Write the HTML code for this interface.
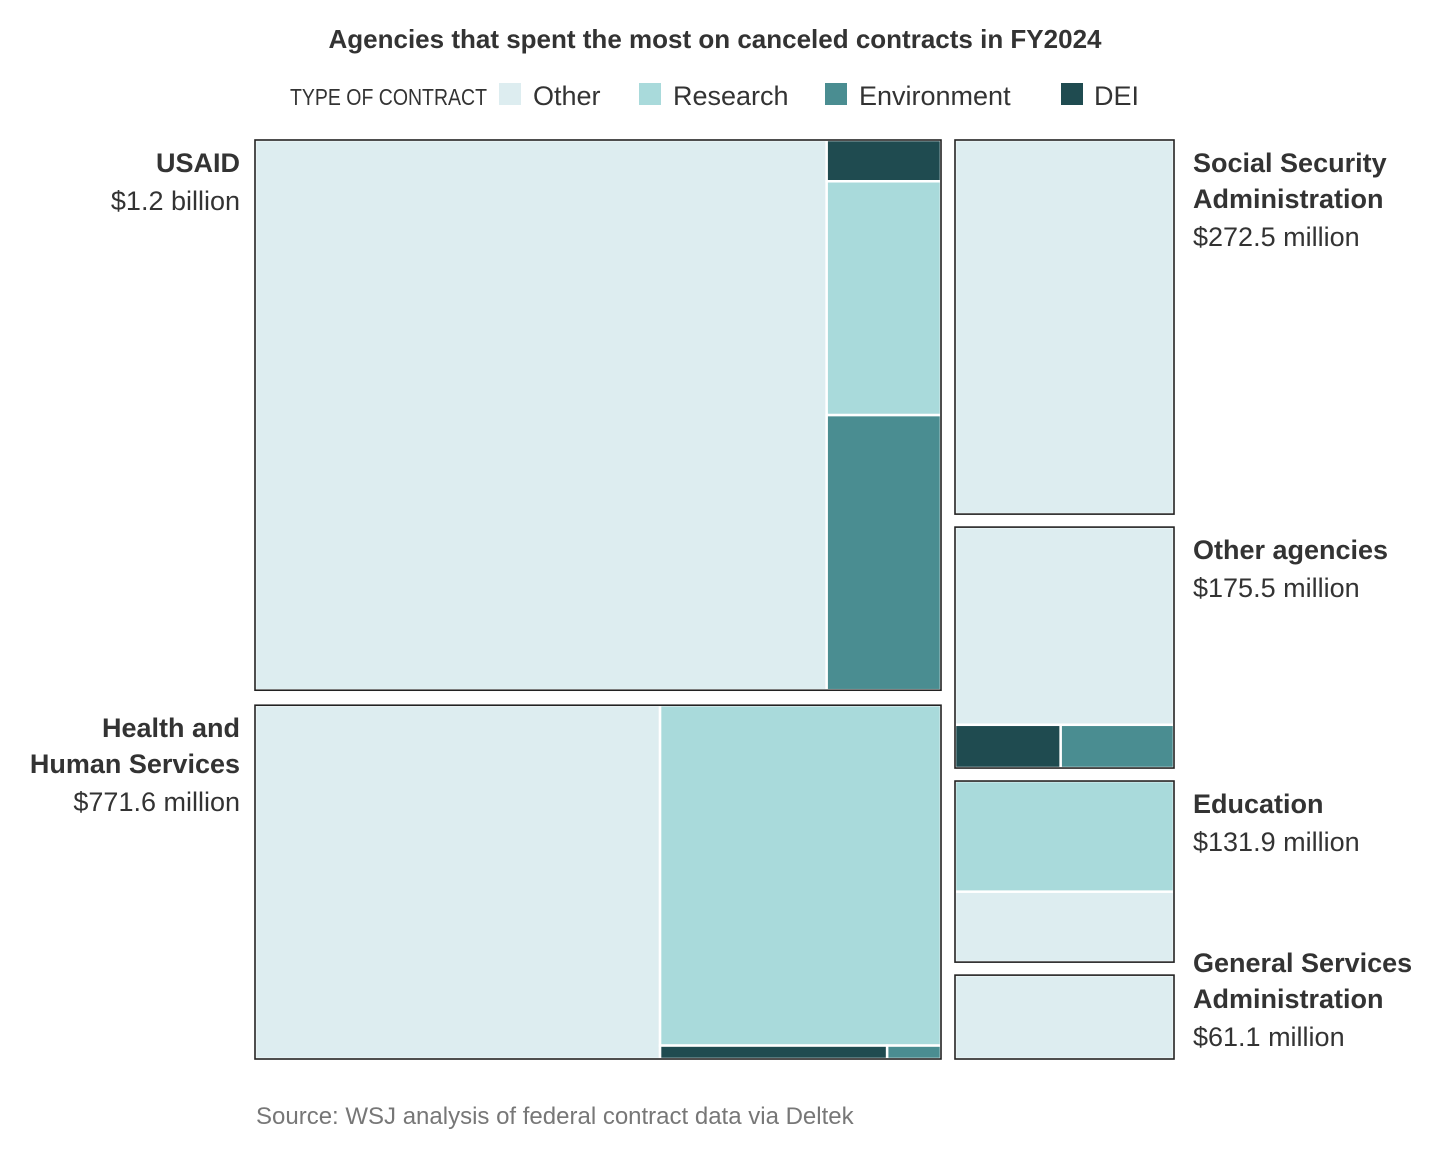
<!DOCTYPE html>
<html><head><meta charset="utf-8"><style>
body{margin:0;background:#fff;width:1446px;height:1148px;overflow:hidden;font-family:"Liberation Sans",sans-serif}
</style></head><body>
<svg id="chart" width="1446" height="1148" font-family="Liberation Sans, sans-serif">
<text x="715" y="48" text-anchor="middle" font-size="26" font-weight="bold" fill="#333">Agencies that spent the most on canceled contracts in FY2024</text>
<g>
<text x="290" y="105" font-size="23" fill="#333" textLength="197" lengthAdjust="spacingAndGlyphs">TYPE OF CONTRACT</text>
<rect x="499" y="83" width="22" height="22" fill="#ddedf0"/>
<text x="533" y="105" font-size="27" fill="#333">Other</text>
<rect x="639" y="83" width="22" height="22" fill="#a9dadb"/>
<text x="673" y="105" font-size="27" fill="#333">Research</text>
<rect x="825" y="83" width="22" height="22" fill="#4a8d91"/>
<text x="859" y="105" font-size="27" fill="#333">Environment</text>
<rect x="1061" y="83" width="22" height="22" fill="#1f4b50"/>
<text x="1094" y="105" font-size="27" fill="#333">DEI</text>
</g>
<g id="marks"></g>
<g id="labels"></g>
<text x="256" y="1124" font-size="24" fill="#777">Source: WSJ analysis of federal contract data via Deltek</text>
</svg>
<script>
const agencies = ["USAID","Health and Human Services","Social Security Administration","Other agencies","Education","General Services Administration"];
const totals = [1200, 771.6, 272.5, 175.5, 131.9, 61.1];
const totalLabels = ["$1.2 billion","$771.6 million","$272.5 million","$175.5 million","$131.9 million","$61.1 million"];
const otherVals = [1000, 455.6, 272.5, 144, 51.3, 61.1];
const researchVals = [85, 304, 0, 0, 80.6, 0];
const envVals = [100, 2.3, 0, 16.3, 0, 0];
const deiVals = [15, 9.7, 0, 15.2, 0, 0];

const colors = {Other:"#ddedf0",Research:"#a9dadb",Environment:"#4a8d91",DEI:"#1f4b50"};
const NS = "http://www.w3.org/2000/svg";
const marks = document.getElementById('marks');
const labelsG = document.getElementById('labels');

function mk(tag, attrs, parent){const e=document.createElementNS(NS,tag);for(const k in attrs)e.setAttribute(k,attrs[k]);parent.appendChild(e);return e;}

const yTop=140, yBottom=1059;
const cols=[{idx:[0,1],x0:255,x1:941,gap:15},{idx:[2,3,4,5],x0:955,x1:1174,gap:13}];
const boxes=[];
cols.forEach(c=>{
  const sum=c.idx.reduce((s,i)=>s+totals[i],0);
  const avail=(yBottom-yTop)-c.gap*(c.idx.length-1);
  let y=yTop;
  c.idx.forEach(i=>{const h=totals[i]/sum*avail;boxes[i]={x:c.x0,y:y,w:c.x1-c.x0,h:h};y+=h+c.gap;});
});

function cell(name,v){return {name:name,v:v};}
function val(it){return it.items?it.items.reduce((s,x)=>s+val(x),0):it.v;}
function layout(it,b,out){
  if(!it.items){out.push({name:it.name,x:b.x,y:b.y,w:b.w,h:b.h});return;}
  const tot=val(it);let off=0;
  it.items.forEach(s=>{const f=tot>0?val(s)/tot:0;
    if(it.dir==='h'){layout(s,{x:b.x+off*b.w,y:b.y,w:f*b.w,h:b.h},out);}
    else{layout(s,{x:b.x,y:b.y+off*b.h,w:b.w,h:f*b.h},out);}
    off+=f;});
}
function structure(i){
  const O=cell("Other",otherVals[i]),R=cell("Research",researchVals[i]),E=cell("Environment",envVals[i]),D=cell("DEI",deiVals[i]);
  if(i===0) return {dir:'h',items:[O,{dir:'v',items:[D,R,E]}]};
  if(i===1) return {dir:'h',items:[O,{dir:'v',items:[R,{dir:'h',items:[D,E]}]}]};
  if(i===3) return {dir:'v',items:[O,{dir:'h',items:[D,E]}]};
  if(i===4) return {dir:'v',items:[R,O]};
  return {dir:'v',items:[O]};
}
agencies.forEach((a,i)=>{
  const b=boxes[i];const out=[];layout(structure(i),b,out);
  const g=mk('g',{},marks);
  
  
  out.forEach(r=>{if(r.w<=0.01||r.h<=0.01)return;
    const e=mk('rect',{x:r.x,y:r.y,width:r.w,height:r.h,fill:colors[r.name],stroke:'#fff','stroke-width':2.5},g);
    
    
  });
  const o=mk('rect',{x:b.x,y:b.y,width:b.w,height:b.h,fill:'none',stroke:'#222','stroke-width':1.6},g);
  
  
});
const nameLines=[["USAID"],["Health and","Human Services"],["Social Security","Administration"],["Other agencies"],["Education"],["General Services","Administration"]];
agencies.forEach((a,i)=>{
  const b=boxes[i];const left=i<2;
  const x=left?240:1193;const anchor=left?'end':'start';
  let y=b.y+32;
  if(i===5) y=b.y-3;
  nameLines[i].forEach(l=>{
    const t=mk('text',{x:x,y:y,'text-anchor':anchor,'font-size':27,'font-weight':'bold',fill:'#333'},labelsG);
    t.textContent=l;
    
    
    y+=36;});
  y+=2;
  const t=mk('text',{x:x,y:y,'text-anchor':anchor,'font-size':27,fill:'#333'},labelsG);
  t.textContent=totalLabels[i];
  
  
});
</script>
</body></html>
